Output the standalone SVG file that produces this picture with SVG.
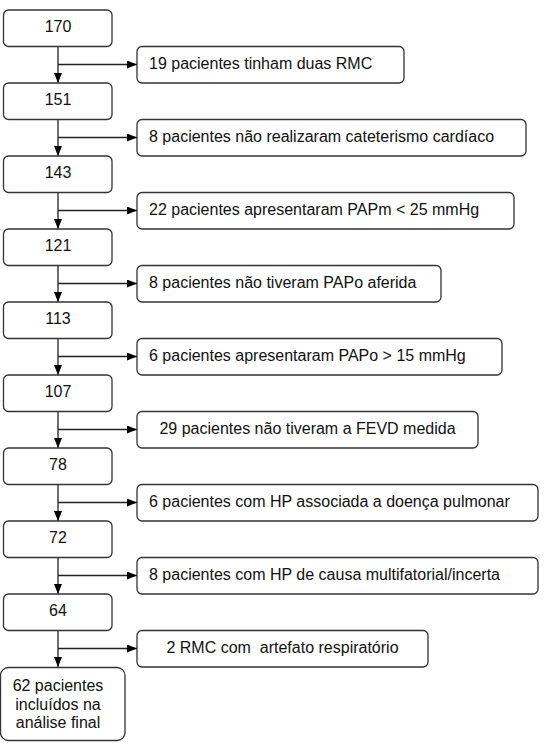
<svg xmlns="http://www.w3.org/2000/svg" width="545" height="751" viewBox="0 0 545 751">
<defs>
<marker id="ah" viewBox="0 0 10 8" refX="10" refY="4" markerWidth="10" markerHeight="8" markerUnits="userSpaceOnUse" orient="auto">
<path d="M0,0 L10,4 L0,8 Z" fill="#000"/>
</marker>
<style>
.box{fill:#fff;stroke:#333;stroke-width:1.3}
.t{font-family:"Liberation Sans",Arial,sans-serif;font-size:16px;fill:#111;white-space:pre}
.c{text-anchor:middle}
.ln{fill:none;stroke:#222;stroke-width:1.3}
</style>
</defs>
<rect width="545" height="751" fill="#fff"/>
<g id="connectors">
<path class="ln" d="M58,46.5 V83" marker-end="url(#ah)"/>
<path class="ln" d="M58,64.5 H137" marker-end="url(#ah)"/>
<path class="ln" d="M58,119.5 V156" marker-end="url(#ah)"/>
<path class="ln" d="M58,137.5 H137" marker-end="url(#ah)"/>
<path class="ln" d="M58,192.5 V229" marker-end="url(#ah)"/>
<path class="ln" d="M58,210.5 H137" marker-end="url(#ah)"/>
<path class="ln" d="M58,265.5 V302" marker-end="url(#ah)"/>
<path class="ln" d="M58,283.5 H137" marker-end="url(#ah)"/>
<path class="ln" d="M58,338.5 V375" marker-end="url(#ah)"/>
<path class="ln" d="M58,356.5 H137" marker-end="url(#ah)"/>
<path class="ln" d="M58,411.5 V448" marker-end="url(#ah)"/>
<path class="ln" d="M58,429.5 H137" marker-end="url(#ah)"/>
<path class="ln" d="M58,484.5 V521" marker-end="url(#ah)"/>
<path class="ln" d="M58,502.5 H137" marker-end="url(#ah)"/>
<path class="ln" d="M58,557.5 V594" marker-end="url(#ah)"/>
<path class="ln" d="M58,575.5 H137" marker-end="url(#ah)"/>
<path class="ln" d="M58,630.5 V667" marker-end="url(#ah)"/>
<path class="ln" d="M58,648.5 H137" marker-end="url(#ah)"/>
</g>
<g id="n170"><rect class="box" x="3.5" y="10" width="108.5" height="36.5" rx="5"/><text class="t c" x="58" y="32">170</text></g>
<g id="n151"><rect class="box" x="3.5" y="83" width="108.5" height="36.5" rx="5"/><text class="t c" x="58" y="105">151</text></g>
<g id="n143"><rect class="box" x="3.5" y="156" width="108.5" height="36.5" rx="5"/><text class="t c" x="58" y="178">143</text></g>
<g id="n121"><rect class="box" x="3.5" y="229" width="108.5" height="36.5" rx="5"/><text class="t c" x="58" y="251">121</text></g>
<g id="n113"><rect class="box" x="3.5" y="302" width="108.5" height="36.5" rx="5"/><text class="t c" x="58" y="324">113</text></g>
<g id="n107"><rect class="box" x="3.5" y="375" width="108.5" height="36.5" rx="5"/><text class="t c" x="58" y="397">107</text></g>
<g id="n78"><rect class="box" x="3.5" y="448" width="108.5" height="36.5" rx="5"/><text class="t c" x="58" y="470">78</text></g>
<g id="n72"><rect class="box" x="3.5" y="521" width="108.5" height="36.5" rx="5"/><text class="t c" x="58" y="543">72</text></g>
<g id="n64"><rect class="box" x="3.5" y="594" width="108.5" height="36.5" rx="5"/><text class="t c" x="58" y="616">64</text></g>
<g id="nfinal"><rect class="box" x="0.5" y="667.5" width="124.5" height="73" rx="8"/>
<text class="t c" x="58" y="691">62 pacientes</text>
<text class="t c" x="58" y="709.5">incluídos na</text>
<text class="t c" x="58" y="728">análise final</text></g>
<g id="s1"><rect class="box" x="137" y="46.5" width="267" height="36.5" rx="5"/><text class="t" x="149" y="68.5">19 pacientes tinham duas RMC</text></g>
<g id="s2"><rect class="box" x="137" y="119.5" width="389" height="36.5" rx="5"/><text class="t" x="149" y="141.5">8 pacientes não realizaram cateterismo cardíaco</text></g>
<g id="s3"><rect class="box" x="137" y="192.5" width="377" height="36.5" rx="5"/><text class="t" x="149" y="214.5">22 pacientes apresentaram PAPm &lt; 25 mmHg</text></g>
<g id="s4"><rect class="box" x="137" y="265.5" width="304" height="36.5" rx="5"/><text class="t" x="149" y="287.5">8 pacientes não tiveram PAPo aferida</text></g>
<g id="s5"><rect class="box" x="137" y="338.5" width="365" height="36.5" rx="5"/><text class="t" x="149" y="360.5">6 pacientes apresentaram PAPo &gt; 15 mmHg</text></g>
<g id="s6"><rect class="box" x="137" y="411.5" width="341" height="36.5" rx="5"/><text class="t c" x="307.5" y="433.5">29 pacientes não tiveram a FEVD medida</text></g>
<g id="s7"><rect class="box" x="137" y="484.5" width="401" height="36.5" rx="5"/><text class="t" x="149" y="506.5">6 pacientes com HP associada a doença pulmonar</text></g>
<g id="s8"><rect class="box" x="137" y="557.5" width="401" height="36.5" rx="5"/><text class="t" x="149" y="579.5">8 pacientes com HP de causa multifatorial/incerta</text></g>
<g id="s9"><rect class="box" x="137" y="630.5" width="291" height="36.5" rx="5"/><text class="t c" x="282.5" y="652.5">2 RMC com  artefato respiratório</text></g>
</svg>
